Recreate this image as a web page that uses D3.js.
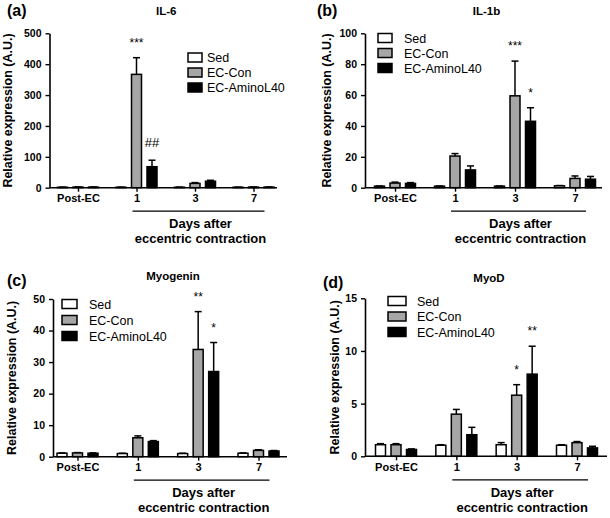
<!DOCTYPE html>
<html><head><meta charset="utf-8">
<script src="https://cdn.jsdelivr.net/npm/d3@7"></script>
<style>body{margin:0;background:#fff}svg{display:block}text{font-family:"Liberation Sans",Arial,sans-serif}</style>
</head><body>
<svg id="c" width="610" height="518"></svg>
<script>
// ---- data ----
const groups = ["Post-EC", "1", "3", "7"];
const seriesNames = ["Sed", "EC-Con", "EC-AminoL40"];
const seriesFill = ["#ffffff", "#a6a6a6", "#000000"];

const il6Sed = [1.5, 1.5, 1.5, 1.5], il6SedErr = [0.3, 0.3, 0.3, 0.3];
const il6Con = [2, 367, 14, 2], il6ConErr = [0.4, 54, 2.5, 0.4];
const il6Amino = [2, 68, 21, 2], il6AminoErr = [0.4, 21, 3, 0.4];
const il6Ticks = [0, 100, 200, 300, 400, 500];
const il6Notes = [["1", 1, "***"], ["1", 2, "##"]];

const il1bSed = [1, 1, 1, 1.2], il1bSedErr = [0.1, 0.1, 0.1, 0.2];
const il1bCon = [3, 20.5, 59.5, 6], il1bConErr = [0.6, 1.6, 22.5, 1.6];
const il1bAmino = [2.8, 11.5, 43, 5.5], il1bAminoErr = [0.5, 2.6, 8.8, 1.8];
const il1bTicks = [0, 20, 40, 60, 80, 100];
const il1bNotes = [["3", 1, "***"], ["3", 2, "*"]];

const myogSed = [1.1, 1, 1, 1.1], myogSedErr = [0.1, 0.1, 0.1, 0.1];
const myogCon = [1.2, 6, 34, 2], myogConErr = [0.1, 0.6, 12, 0.2];
const myogAmino = [1.1, 4.8, 27, 1.8], myogAminoErr = [0.1, 0.3, 9.2, 0.15];
const myogTicks = [0, 10, 20, 30, 40, 50];
const myogNotes = [["3", 1, "**"], ["3", 2, "*"]];

const myodSed = [1.1, 1.05, 1.1, 1.05], myodSedErr = [0.1, 0.05, 0.2, 0.05];
const myodCon = [1.1, 4.0, 5.8, 1.3], myodConErr = [0.1, 0.45, 1.0, 0.1];
const myodAmino = [0.65, 2.05, 7.8, 0.8], myodAminoErr = [0.05, 0.7, 2.65, 0.15];
const myodTicks = [0, 5, 10, 15];
const myodNotes = [["3", 1, "*"], ["3", 2, "**"]];

// ---- layout ----
const panels = [
  {tag:"(a)", title:"IL-6", means:[il6Sed,il6Con,il6Amino], errs:[il6SedErr,il6ConErr,il6AminoErr], ticks:il6Ticks, notes:il6Notes,
   L:49.5, R:277, T:33.3, B:187.7, g0:78, g1:253.5, lgX:188, lgY:57.5, lgW:14, lgStep:15, lgTx:207, ylX:12, tagX:7, tagY:15.5, titleY:15},
  {tag:"(b)", title:"IL-1b", means:[il1bSed,il1bCon,il1bAmino], errs:[il1bSedErr,il1bConErr,il1bAminoErr], ticks:il1bTicks, notes:il1bNotes,
   L:365, R:602, T:33.3, B:187.7, g0:395, g1:575, lgX:378, lgY:38, lgW:14, lgStep:15, lgTx:404, ylX:331, tagX:317, tagY:15.5, titleY:15},
  {tag:"(c)", title:"Myogenin", means:[myogSed,myogCon,myogAmino], errs:[myogSedErr,myogConErr,myogAminoErr], ticks:myogTicks, notes:myogNotes,
   L:53, R:287, T:299, B:456.7, g0:77.5, g1:258.5, lgX:62, lgY:304, lgW:15, lgStep:16, lgTx:89, ylX:16, tagX:7, tagY:286, titleY:280},
  {tag:"(d)", title:"MyoD", means:[myodSed,myodCon,myodAmino], errs:[myodSedErr,myodConErr,myodAminoErr], ticks:myodTicks, notes:myodNotes,
   L:365, R:607, T:298.3, B:456.3, g0:396, g1:577, lgX:388, lgY:301, lgW:18, lgStep:15.5, lgTx:417, ylX:339, tagX:323, tagY:288, titleY:282}
];

const svg = d3.select("#c");
const barStep = 15.5, barW = 10, capW = 7;

panels.forEach(p => {
  const g = svg.append("g");
  const y = d3.scaleLinear().domain([0, d3.max(p.ticks)]).range([p.B, p.T]);
  const x = d3.scalePoint().domain(groups).range([p.g0, p.g1]);

  // bars
  p.means.forEach((vals, si) => {
    vals.forEach((v, gi) => {
      const cx = x(groups[gi]) + (si - 1) * barStep;
      const e = p.errs[si][gi];
      // error bar
      g.append("line").attr("x1", cx).attr("x2", cx).attr("y1", y(v)).attr("y2", y(v + e))
        .attr("stroke", "#000").attr("stroke-width", 1.5);
      g.append("line").attr("x1", cx - capW/2).attr("x2", cx + capW/2).attr("y1", y(v + e)).attr("y2", y(v + e))
        .attr("stroke", "#000").attr("stroke-width", 1.5);
      g.append("rect").attr("x", cx - barW/2).attr("width", barW)
        .attr("y", y(v)).attr("height", Math.max(0, y(0) - y(v)))
        .attr("fill", seriesFill[si]).attr("stroke", "#000").attr("stroke-width", 1.5);
    });
  });

  // y axis
  const ya = d3.axisLeft(y).tickValues(p.ticks).tickSize(4).tickPadding(4).tickSizeOuter(0);
  const yg = g.append("g").attr("transform", `translate(${p.L},0)`).call(ya);
  yg.select(".domain").attr("stroke-width", 1.6);
  yg.selectAll(".tick line").attr("stroke-width", 1.4);
  yg.selectAll("text").attr("font-size", 10.5).attr("font-weight", "bold").attr("font-family", '"Liberation Sans",Arial,sans-serif').attr("fill", "#000");

  // x axis
  const xs = d3.scaleLinear().domain([p.L, p.R]).range([p.L, p.R]);
  const xa = d3.axisBottom(x).tickSize(4).tickPadding(3).tickSizeOuter(0);
  const xg = g.append("g").attr("transform", `translate(0,${p.B})`).call(xa);
  xg.select(".domain").attr("d", `M${p.L},0H${p.R}`).attr("stroke-width", 1.6);
  xg.selectAll(".tick line").attr("stroke-width", 1.4);
  xg.selectAll("text").attr("font-size", 11).attr("font-weight", "bold").attr("font-family", '"Liberation Sans",Arial,sans-serif').attr("fill", "#000");

  // days underline
  const u0 = x("1") - 4, u1 = x("7") + 11;
  g.append("line").attr("x1", u0).attr("x2", u1).attr("y1", p.B + 23.5).attr("y2", p.B + 23.5)
    .attr("stroke", "#000").attr("stroke-width", 1.2);
  const uc = (u0 + u1) / 2 + 2;
  g.append("text").attr("x", uc).attr("y", p.B + 40.5).attr("text-anchor", "middle")
    .attr("font-size", 13).attr("font-weight", "bold").text("Days after");
  g.append("text").attr("x", uc).attr("y", p.B + 55.5).attr("text-anchor", "middle")
    .attr("font-size", 13).attr("font-weight", "bold").text("eccentric contraction");

  // y label
  g.append("text").attr("transform", `translate(${p.ylX},${(p.T + p.B) / 2}) rotate(-90)`)
    .attr("text-anchor", "middle").attr("font-size", 12.5).attr("font-weight", "bold")
    .text("Relative expression (A.U.)");

  // title & tag
  g.append("text").attr("x", (p.L + p.R) / 2 + 3).attr("y", p.titleY).attr("text-anchor", "middle")
    .attr("font-size", 11.5).attr("font-weight", "bold").text(p.title);
  g.append("text").attr("x", p.tagX).attr("y", p.tagY).attr("font-size", 16).attr("font-weight", "bold").text(p.tag);

  // legend
  seriesNames.forEach((s, si) => {
    const cy = p.lgY + si * p.lgStep;
    g.append("rect").attr("x", p.lgX).attr("y", cy - 4.5).attr("width", p.lgW).attr("height", 9)
      .attr("fill", seriesFill[si]).attr("stroke", "#000").attr("stroke-width", 1.5);
    g.append("text").attr("x", p.lgTx).attr("y", cy + 4.5).attr("font-size", 12.5).text(s);
  });

  // significance marks
  p.notes.forEach(([grp, si, t]) => {
    const gi = groups.indexOf(grp);
    const cx = x(grp) + (si - 1) * barStep;
    const top = y(p.means[si][gi] + p.errs[si][gi]);
    const hash = t.indexOf("#") >= 0;
    g.append("text").attr("x", cx).attr("y", top - (hash ? 13 : 11)).attr("text-anchor", "middle")
      .attr("font-size", hash ? 13 : 12).text(t);
  });
});
</script>
</body></html>
